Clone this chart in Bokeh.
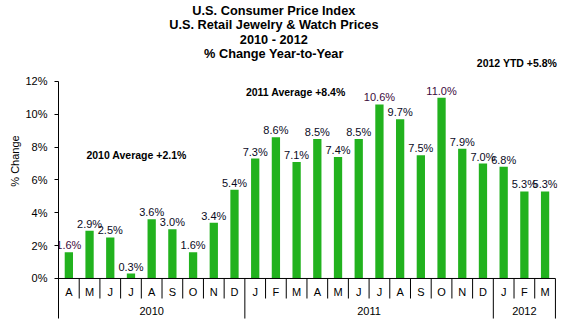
from bokeh.plotting import figure
from bokeh.models import Range1d, FixedTicker, PrintfTickFormatter, Title
from bokeh.core.properties import value
from bokeh.embed import file_html
from bokeh.resources import INLINE

# ---- data ----
months = ["A", "M", "J", "J", "A", "S", "O", "N", "D",
          "J", "F", "M", "A", "M", "J", "J", "A", "S", "O", "N", "D",
          "J", "F", "M"]
pct_change = [1.6, 2.9, 2.5, 0.3, 3.6, 3.0, 1.6, 3.4, 5.4,
              7.3, 8.6, 7.1, 8.5, 7.4, 8.5, 10.6, 9.7, 7.5, 11.0, 7.9, 7.0,
              6.8, 5.3, 5.3]
years = ["2010", "2011", "2012"]
months_per_year = [9, 12, 3]
y_ticks = [0, 2, 4, 6, 8, 10, 12]
title_lines = ["U.S. Consumer Price Index",
               "U.S. Retail Jewelry & Watch Prices",
               "2010 - 2012",
               "% Change Year-to-Year"]
avg_texts = ["2010 Average +2.1%", "2011 Average +8.4%", "2012 YTD +5.8%"]
y_label = "% Change"

FONT = value("Liberation Sans")
n = len(months)
xs = [i + 0.5 for i in range(n)]

p = figure(width=563, height=321, output_backend="svg", toolbar_location=None,
           x_range=Range1d(0, 24.1), y_range=Range1d(-2.62, 16.93),
           x_axis_location=None, y_axis_location="left",
           min_border_left=58, min_border_right=6,
           min_border_top=0, min_border_bottom=0)
p.outline_line_color = None
p.grid.visible = False
p.background_fill_color = "white"
p.border_fill_color = "white"

ax = p.yaxis[0]
ax.ticker = FixedTicker(ticks=y_ticks)
ax.formatter = PrintfTickFormatter(format="%d%%")
ax.bounds = (-2.44, 12)
ax.axis_line_color = "black"
ax.major_tick_line_color = "black"
ax.major_tick_out = 4
ax.major_tick_in = 0
ax.minor_tick_out = 0
ax.minor_tick_in = 0
ax.major_label_standoff = 7
ax.major_label_text_font = "Liberation Sans"
ax.major_label_text_font_size = "11px"
ax.major_label_text_color = "black"

# y axis label as a left-side title
p.add_layout(Title(text=y_label, align="center", offset=-9,
                   text_font="Liberation Sans", text_font_size="11px",
                   text_font_style="normal", text_color="black",
                   standoff=3), "left")

# bars
p.vbar(x=xs, top=pct_change, bottom=0, width=0.4,
       fill_color="#22B21E", line_color=None)

# baseline
p.segment(x0=[0], y0=[0], x1=[n], y1=[0], line_color="black", line_width=1)

# separators
bounds_year = []
acc = 0
for c in months_per_year:
    acc += c
    bounds_year.append(acc)
short = [b for b in range(1, n) if b not in bounds_year]
p.segment(x0=short, y0=[0] * len(short), x1=short, y1=[-1.22] * len(short),
          line_color="black", line_width=1)
p.segment(x0=bounds_year, y0=[0] * len(bounds_year), x1=bounds_year,
          y1=[-2.44] * len(bounds_year), line_color="black", line_width=1)

# month labels
p.text(x=xs, y=[-0.85] * n, text=months, text_font=FONT,
       text_font_size=value("11px"), text_align="center",
       text_baseline="middle", text_color="black")

# year labels
yc = []
start = 0
for c in months_per_year:
    yc.append(start + c / 2)
    start += c
p.text(x=yc, y=[-2.0] * len(years), text=years, text_font=FONT,
       text_font_size=value("11px"), text_align="center",
       text_baseline="middle", text_color="black")

# data labels
highlight = {0, 15, 18}
lab_colors = ["#3c0a3c" if i in highlight else "#0a0a1e" for i in range(n)]
p.text(x=xs, y=pct_change, text=["%.1f%%" % v for v in pct_change],
       text_font=FONT, text_font_size=value("11px"), text_align="center",
       text_baseline="alphabetic", y_offset=-7, text_color=lab_colors)

# title lines
ty = [16.35, 15.46, 14.58, 13.68]
p.text(x=[10.4] * 4, y=ty, text=title_lines, text_font=FONT,
       text_font_size=value("12.75px"), text_font_style="bold",
       text_align="center", text_baseline="middle", text_color="black")

# average annotations
p.text(x=[3.77, 11.46], y=[7.55, 11.33], text=avg_texts[:2], text_font=FONT,
       text_font_size=value("10.5px"), text_font_style="bold",
       text_align="center", text_baseline="middle", text_color="black")
p.text(x=[24.08], y=[13.12], text=avg_texts[2:], text_font=FONT,
       text_font_size=value("10.5px"), text_font_style="bold",
       text_align="right", text_baseline="middle", text_color="black")

open("out.html", "w").write(file_html(p, INLINE))
